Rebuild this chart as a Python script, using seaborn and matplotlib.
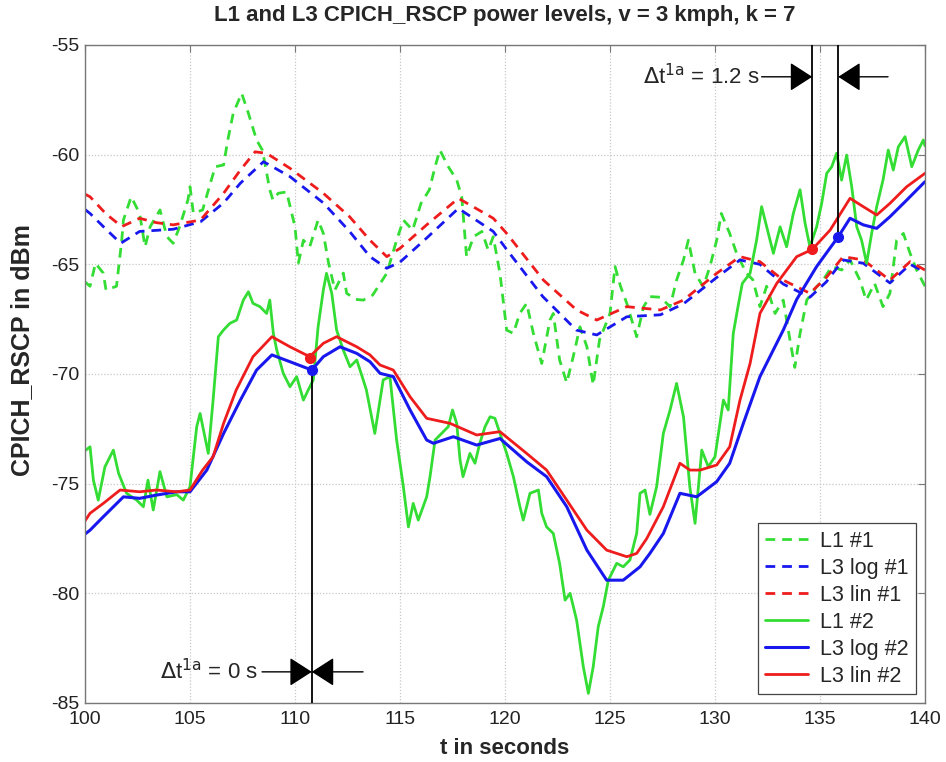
import matplotlib
matplotlib.use("Agg")
import matplotlib.pyplot as plt
import seaborn as sns

# ---------------- data ----------------
t_l1_1 = [100.0, 100.24, 100.5, 100.87, 101.0, 101.5, 101.75, 101.83, 102.2, 102.6, 102.86, 103.1,
          103.57, 103.9, 104.2, 104.5, 104.9, 105.0, 105.16, 105.6, 106.2, 106.6, 106.8, 107.06,
          107.46, 107.78, 108.17, 108.45, 108.8, 108.95, 109.2, 109.6, 110.0, 110.16, 110.4, 110.7,
          111.1, 111.35, 111.6, 111.9, 112.3, 112.46, 112.9, 113.25, 113.7, 114.37, 114.84, 115.16,
          115.6, 116.0, 116.4, 116.67, 116.9, 117.3, 117.7, 117.94, 118.17, 118.5, 118.9, 119.2,
          119.44, 119.76, 120.08, 120.4, 120.7, 121.03, 121.35, 121.75, 122.14, 122.3, 122.6, 122.94,
          123.25, 123.57, 123.9, 124.2, 124.5, 125.0, 125.24, 125.5, 125.8, 126.27, 126.6, 126.9,
          127.4, 127.86, 128.17, 128.5, 128.73, 129.05, 129.44, 129.76, 130.08, 130.3, 130.7, 131.03,
          131.5, 131.8, 132.14, 132.46, 132.86, 133.25, 133.57, 133.8, 134.05, 134.37, 134.84, 135.16,
          135.56, 136.03, 136.43, 136.9, 137.2, 137.6, 138.0, 138.33, 138.65, 138.97, 139.29, 139.6,
          140.0]
y_l1_1 = [-65.8, -66.0, -64.95, -65.4, -66.17, -66.0, -63.9, -62.98, -61.92, -62.68, -64.2, -63.29,
          -62.52, -63.74, -64.04, -63.3, -62.07, -61.46, -62.67, -62.52, -60.55, -60.47, -59.33, -58.11,
          -57.2, -58.11, -59.33, -59.8, -61.6, -62.07, -61.76, -61.7, -63.29, -64.95, -63.9, -64.2,
          -62.98, -63.59, -64.95, -66.17, -65.4, -66.32, -66.6, -66.63, -66.4, -65.41, -63.9, -62.98,
          -63.44, -62.22, -61.6, -60.55, -59.79, -60.55, -61.15, -61.92, -64.65, -63.74, -63.5, -64.35,
          -63.74, -65.41, -68.0, -68.15, -67.24, -66.78, -68.15, -69.52, -67.54, -67.24, -69.36, -70.4,
          -69.2, -67.85, -68.76, -70.5, -68.45, -67.24, -65.1, -66.0, -66.78, -68.3, -66.93, -66.47,
          -66.5, -66.93, -65.72, -64.8, -63.9, -65.41, -66.02, -65.1, -63.9, -62.68, -63.59, -64.5,
          -65.41, -65.7, -66.93, -66.0, -67.24, -66.63, -68.45, -69.7, -68.15, -66.63, -66.02, -65.7,
          -65.1, -65.26, -64.8, -65.72, -66.63, -65.87, -66.93, -66.32, -63.9, -63.59, -64.5, -65.26,
          -66.0]

t_log_1 = [100.0, 100.24, 101.0, 101.7, 102.6, 103.4, 104.2, 105.5, 106.6, 107.4, 108.5, 109.76,
           111.35, 112.6, 113.57, 114.37, 115.0, 116.27, 117.78, 119.44, 120.1, 121.8, 123.4, 124.37,
           125.8, 127.4, 128.5, 130.08, 131.19, 132.14, 133.25, 134.52, 135.3, 136.1, 137.06, 138.33,
           139.29, 140.0]
y_log_1 = [-62.5, -62.68, -63.4, -64.04, -63.5, -63.45, -63.4, -63.06, -62.2, -61.3, -60.32, -61.0,
           -62.2, -63.5, -64.65, -65.18, -64.9, -63.8, -62.45, -63.5, -64.35, -66.47, -68.0, -68.22,
           -67.39, -67.3, -66.8, -65.6, -64.8, -65.0, -65.9, -66.5, -65.8, -64.8, -64.95, -65.85,
           -65.0, -65.35]

t_lin_1 = [100.0, 100.24, 101.0, 101.75, 102.6, 103.4, 104.2, 105.5, 106.6, 107.4, 108.1, 108.65,
           109.76, 111.35, 112.6, 113.57, 114.37, 115.0, 116.27, 117.78, 119.44, 120.08, 121.83, 123.41,
           124.37, 125.8, 127.4, 128.5, 130.08, 131.19, 132.14, 133.25, 134.52, 135.3, 136.1, 137.06,
           138.33, 139.29, 140.0]
y_lin_1 = [-61.8, -61.92, -62.7, -63.28, -62.9, -63.1, -63.2, -62.98, -61.76, -60.7, -59.87, -59.94,
           -60.62, -61.76, -62.83, -63.9, -64.65, -64.27, -63.2, -61.99, -62.9, -63.59, -65.72, -67.08,
           -67.54, -66.93, -67.08, -66.63, -65.41, -64.65, -64.88, -65.72, -66.32, -65.6, -64.65, -64.8,
           -65.72, -64.88, -65.26]

t_l1_2 = [100.0, 100.24, 100.4, 100.63, 100.95, 101.35, 101.6, 101.98, 102.46, 102.78, 103.0, 103.25,
          103.57, 103.9, 104.37, 104.68, 105.0, 105.32, 105.48, 105.87, 106.1, 106.35, 106.6, 106.9,
          107.22, 107.54, 107.78, 108.0, 108.33, 108.65, 108.8, 108.97, 109.13, 109.44, 109.76, 110.08,
          110.4, 110.63, 110.87, 111.1, 111.35, 111.5, 111.75, 111.98, 112.3, 112.62, 112.94, 113.25,
          113.4, 113.8, 114.2, 114.52, 114.84, 115.16, 115.4, 115.63, 115.87, 116.27, 116.43, 116.67,
          116.98, 117.3, 117.5, 117.7, 117.86, 118.0, 118.33, 118.57, 118.8, 119.05, 119.29, 119.52,
          119.76, 120.08, 120.4, 120.71, 120.87, 121.19, 121.59, 121.75, 121.98, 122.3, 122.6, 122.86,
          123.1, 123.41, 123.73, 123.97, 124.2, 124.44, 124.68, 124.92, 125.32, 125.63, 125.95, 126.27,
          126.43, 126.67, 126.9, 127.22, 127.54, 127.86, 128.17, 128.5, 128.8, 129.05, 129.37, 129.68,
          130.0, 130.4, 130.63, 130.87, 131.1, 131.3, 131.67, 131.98, 132.22, 132.46, 132.78, 133.1,
          133.41, 133.73, 134.05, 134.29, 134.52, 134.84, 135.08, 135.32, 135.56, 135.79, 136.03, 136.27,
          136.51, 136.75, 136.98, 137.22, 137.46, 137.7, 138.0, 138.25, 138.49, 138.73, 139.05, 139.37,
          139.68, 139.92, 140.0]
y_l1_2 = [-73.5, -73.32, -74.84, -75.75, -74.23, -73.47, -74.53, -75.44, -75.75, -76.05, -74.84, -76.2,
          -74.45, -75.6, -75.5, -75.75, -75.14, -72.4, -71.8, -73.62, -71.19, -68.3, -67.99, -67.69,
          -67.54, -66.63, -66.25, -66.78, -66.93, -67.24, -66.63, -68.15, -68.9, -69.97, -70.58, -70.12,
          -71.19, -70.73, -70.27, -67.85, -66.17, -65.41, -66.32, -67.99, -68.91, -69.67, -69.36, -70.27,
          -70.73, -72.71, -70.27, -70.12, -73.01, -75.14, -76.97, -75.9, -76.66, -75.6, -74.68, -73.01,
          -72.71, -72.4, -71.64, -72.25, -73.92, -74.68, -73.62, -74.07, -73.16, -72.4, -71.95, -72.02,
          -72.71, -73.62, -74.68, -76.05, -76.66, -75.44, -75.29, -76.35, -76.97, -77.27, -78.63, -80.31,
          -80.0, -81.22, -83.35, -84.56, -83.35, -81.52, -80.61, -79.4, -78.63, -78.79, -78.48, -77.27,
          -75.44, -75.29, -76.4, -75.14, -72.71, -71.64, -70.43, -71.95, -75.14, -76.81, -73.47, -74.23,
          -73.77, -71.19, -71.64, -68.15, -66.9, -65.87, -65.41, -63.9, -62.37, -63.29, -64.5, -63.29,
          -64.2, -62.68, -61.6, -63.13, -64.2, -63.29, -62.22, -60.85, -60.55, -59.94, -61.16, -60.02,
          -61.46, -63.29, -63.9, -64.95, -63.59, -62.37, -61.16, -59.79, -60.7, -59.64, -59.18, -60.55,
          -59.79, -59.33, -59.6]

t_log_2 = [100.0, 100.24, 100.87, 101.83, 102.6, 103.4, 104.37, 105.0, 105.8, 106.6, 107.4, 108.17,
           108.9, 109.76, 110.8, 111.35, 112.14, 112.94, 113.57, 114.05, 114.68, 115.48, 116.27, 116.59,
           117.54, 118.65, 119.76, 121.03, 121.98, 122.94, 123.9, 124.84, 125.63, 126.43, 126.9, 127.54,
           128.33, 129.13, 130.08, 130.7, 131.35, 132.14, 133.25, 133.89, 134.84, 135.87, 136.43, 137.06,
           137.7, 138.33, 139.13, 140.0]
y_log_2 = [-77.3, -77.12, -76.51, -75.6, -75.67, -75.52, -75.37, -75.37, -74.38, -72.71, -71.19, -69.82,
           -69.13, -69.44, -69.82, -69.21, -68.76, -69.06, -69.44, -69.97, -70.12, -71.64, -73.01, -73.16,
           -72.86, -73.24, -72.94, -74.0, -74.68, -76.05, -78.03, -79.4, -79.4, -78.79, -78.18, -77.27,
           -75.44, -75.6, -74.91, -74.07, -72.25, -70.12, -68.0, -66.6, -65.1, -63.74, -62.9, -63.2,
           -63.36, -62.83, -62.07, -61.23]

t_lin_2 = [100.0, 100.24, 100.87, 101.67, 102.6, 103.4, 104.37, 105.0, 105.6, 106.1, 106.6, 107.2,
           108.0, 108.9, 109.76, 110.7, 111.35, 111.98, 112.94, 113.57, 114.05, 114.68, 115.48, 116.27,
           117.38, 118.65, 119.76, 121.03, 121.98, 122.94, 123.9, 124.84, 125.8, 126.27, 126.75, 127.54,
           128.33, 128.8, 129.29, 130.08, 130.7, 131.19, 131.67, 132.14, 132.94, 133.89, 134.63, 135.48,
           136.43, 137.06, 137.7, 138.33, 139.13, 140.0]
y_lin_2 = [-76.7, -76.35, -75.9, -75.29, -75.37, -75.29, -75.37, -75.29, -74.38, -73.77, -72.25, -70.73,
           -69.21, -68.3, -68.76, -69.21, -68.6, -68.3, -68.76, -69.13, -69.59, -69.82, -71.04, -72.02,
           -72.25, -72.78, -72.63, -73.62, -74.38, -75.75, -77.12, -78.03, -78.33, -78.18, -77.5, -76.05,
           -74.07, -74.38, -74.38, -74.15, -73.32, -71.19, -69.52, -67.24, -65.87, -64.65, -64.32, -63.44,
           -61.99, -62.37, -62.75, -62.22, -61.46, -60.85]

labels = ["L1 #1", "L3 log #1", "L3 lin #1", "L1 #2", "L3 log #2", "L3 lin #2"]

# handover instants (markers)
mark_red_t = [110.7, 134.63]
mark_red_y = [-69.25, -64.32]
mark_blue_t = [110.8, 135.87]
mark_blue_y = [-69.82, -63.74]

x_ticks = [100, 105, 110, 115, 120, 125, 130, 135, 140]
y_ticks = [-85, -80, -75, -70, -65, -60, -55]

# ---------------- styling ----------------
sns.set_theme(style="white")
plt.rcParams['font.family'] = ['Liberation Sans', 'DejaVu Sans']
plt.rcParams['axes.unicode_minus'] = False

GREEN = "#33dd33"
BLUE = "#1818ee"
RED = "#ee1c1c"

fig = plt.figure(figsize=(9.46, 7.62), dpi=100)
ax = fig.add_axes([85 / 946, 1 - 703 / 762, 840 / 946, 658 / 762])

series = [
    (t_l1_1, y_l1_1, GREEN, (0, (3.5, 2.5)), 2.0),
    (t_log_1, y_log_1, BLUE, (0, (3.5, 2.5)), 2.0),
    (t_lin_1, y_lin_1, RED, (0, (3.5, 2.5)), 2.0),
    (t_l1_2, y_l1_2, GREEN, "-", 2.0),
    (t_log_2, y_log_2, BLUE, "-", 2.2),
    (t_lin_2, y_lin_2, RED, "-", 2.0),
]
for (t, y, c, ls, lw), lab in zip(series, labels):
    sns.lineplot(x=t, y=y, ax=ax, color=c, linestyle=ls, linewidth=lw, label=lab,
                 sort=False, estimator=None)

ax.set_xlim(100, 140)
ax.set_ylim(-85, -55)
ax.set_xticks(x_ticks)
ax.set_yticks(y_ticks)
ax.grid(True, color="#c8c8c8", linewidth=0.9, linestyle=(0, (1, 1.5)))
ax.set_axisbelow(True)
for s in ax.spines.values():
    s.set_color("#777777")
    s.set_linewidth(1.0)
ax.tick_params(direction="in", length=5, width=0.8, color="#777777", top=True, right=True,
               labelsize=14, labelcolor="#222222", pad=6)
ax.tick_params(axis="y", pad=4)
ax.set_xlabel("")
ax.set_ylabel("")

# vertical handover lines and points
ax.vlines([mark_blue_t[0]], -85, mark_blue_y[0], color="black", lw=1.3, zorder=5)
ax.vlines([mark_red_t[1]], mark_red_y[1], -55, color="black", lw=1.3, zorder=5)
ax.vlines([mark_blue_t[1]], mark_blue_y[1], -55, color="black", lw=1.3, zorder=5)
ax.plot(mark_red_t, mark_red_y, "o", color=RED, ms=7, zorder=6)
ax.plot(mark_blue_t, mark_blue_y, "o", color=BLUE, ms=7, zorder=6)

arr = dict(arrowstyle="-|>,head_length=0.7,head_width=0.45", color="black", lw=1.0,
           mutation_scale=20, shrinkA=0, shrinkB=0)
# bottom annotation (0 s)
ax.annotate("", xy=(mark_blue_t[0], -83.58), xytext=(108.43, -83.58), arrowprops=arr, zorder=7)
ax.annotate("", xy=(mark_blue_t[0], -83.58), xytext=(113.24, -83.58), arrowprops=arr, zorder=7)
ax.text(108.25, -83.58, r"$\Delta$t$^{\mathrm{1a}}$ = 0 s", ha="right", va="center", fontsize=16)
# top annotation (1.2 s)
ax.annotate("", xy=(mark_red_t[1], -56.45), xytext=(132.22, -56.45), arrowprops=arr, zorder=7)
ax.annotate("", xy=(mark_blue_t[1], -56.45), xytext=(138.24, -56.45), arrowprops=arr, zorder=7)
ax.text(132.1, -56.45, r"$\Delta$t$^{\mathrm{1a}}$ = 1.2 s", ha="right", va="center", fontsize=16)

leg = ax.legend(loc="lower right", fontsize=15.5, frameon=True, fancybox=False, framealpha=1,
                edgecolor="#444444", handlelength=2.0, handletextpad=0.55, labelspacing=0.28,
                borderpad=0.35, borderaxespad=0.4)
leg.get_frame().set_linewidth(0.9)

fig.text(505 / 946, 1 - 15 / 762, "L1 and L3 CPICH_RSCP power levels, v = 3 kmph, k = 7",
         ha="center", va="center", fontsize=16, fontweight="bold")
fig.text(505 / 946, 1 - 748 / 762, "t in seconds", ha="center", va="center",
         fontsize=16, fontweight="bold")
fig.text(22 / 946, 1 - 350 / 762, "CPICH_RSCP in dBm", ha="center", va="center",
         rotation=90, fontsize=18, fontweight="bold")

fig.savefig("out.png", dpi=100)
